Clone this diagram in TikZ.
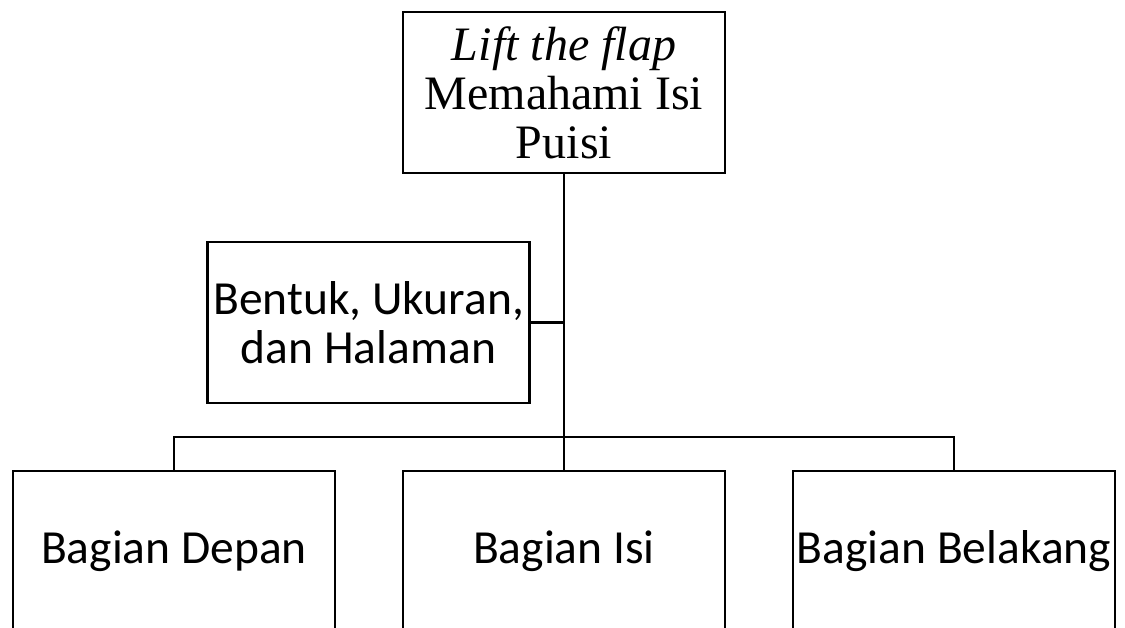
\documentclass[tikz,border=0pt]{standalone}
\usepackage{fontspec}
\setmainfont{Liberation Serif}
\newfontfamily\carlito{Carlito}
\begin{document}
\begin{tikzpicture}[x=1pt,y=-1pt,
  box/.style={draw=black,line width=2.2pt,minimum width=322pt,minimum height=161pt,inner sep=0pt,align=center},
  sans/.style={font=\carlito\fontsize{47.5}{49}\selectfont},
  link/.style={draw=black,line width=2.2pt}]
\useasboundingbox (0,0) rectangle (1125,628);
\clip (0,0) rectangle (1125,628);
\fill[white] (0,0) rectangle (1125,628);
\node[box,font=\fontsize{48}{49}\selectfont] (top) at (564,92.5) {\textit{Lift the flap}\\Memahami Isi\\Puisi};
\node[box,sans] (mid) at (368.5,322.5) {Bentuk, Ukuran,\\dan Halaman};
\node[box,sans] (b1) at (174,551.5) {Bagian Depan};
\node[box,sans] (b2) at (564,551.5) {Bagian Isi};
\node[box,sans] (b3) at (954,551.5) {Bagian Belakang};
\coordinate (j) at (564,437);
\draw[link] (top.south) -- (j);
\draw[link] (mid.east) -- (mid.east -| top.south);
\draw[link] (b1.north) |- (j);
\draw[link] (b3.north) |- (j);
\draw[link] (b2.north) -- (j);
\end{tikzpicture}
\end{document}
